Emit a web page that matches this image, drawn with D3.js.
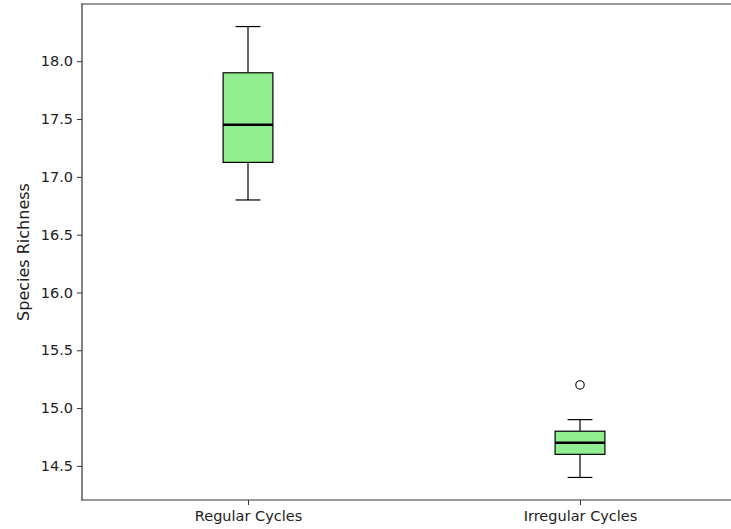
<!DOCTYPE html>
<html>
<head>
<meta charset="utf-8">
<script src="https://cdn.jsdelivr.net/npm/d3@7"></script>
<style>
  html, body { margin: 0; padding: 0; background: #fff; overflow: hidden; }
  svg { display: block; font-family: "DejaVu Sans", sans-serif; overflow: hidden; }
</style>
</head>
<body>
<svg id="chart" width="731" height="529"></svg>
<script>
// Box-plot summary for each cycle type
const categories = ["Regular Cycles", "Irregular Cycles"];
const whiskerLow  = [16.8, 14.4];
const q1          = [17.125, 14.6];
const median      = [17.45, 14.7];
const q3          = [17.9, 14.8];
const whiskerHigh = [18.3, 14.9];
const outliers    = [[], [15.2]];
const yTicks = [14.5, 15.0, 15.5, 16.0, 16.5, 17.0, 17.5, 18.0];

const svg = d3.select("#chart");
const plot = { left: 82, top: 4, width: 664, height: 496 };

// Category positions 1..n on a linear axis spanning 0.5..n+0.5
const x = d3.scaleLinear()
  .domain([0.5, categories.length + 0.5])
  .range([plot.left, plot.left + plot.width]);

const allVals = whiskerLow.concat(whiskerHigh, ...outliers);
const lo = d3.min(allVals), hi = d3.max(allVals), pad = (hi - lo) * 0.05;
const y = d3.scaleLinear()
  .domain([lo - pad, hi + pad])
  .range([plot.top + plot.height, plot.top]);

const boxW = 0.15;   // box width in category units
const capW = boxW / 2;

const g = svg.append("g");

categories.forEach((c, i) => {
  const pos = i + 1;
  const grp = g.append("g");
  // whiskers
  grp.append("line")
    .attr("x1", x(pos)).attr("x2", x(pos))
    .attr("y1", y(q3[i])).attr("y2", y(whiskerHigh[i]))
    .attr("stroke", "#000").attr("stroke-width", 1.2);
  grp.append("line")
    .attr("x1", x(pos)).attr("x2", x(pos))
    .attr("y1", y(q1[i])).attr("y2", y(whiskerLow[i]))
    .attr("stroke", "#000").attr("stroke-width", 1.2);
  // caps
  [whiskerHigh[i], whiskerLow[i]].forEach(v => {
    grp.append("line")
      .attr("x1", x(pos - capW / 2)).attr("x2", x(pos + capW / 2))
      .attr("y1", y(v)).attr("y2", y(v))
      .attr("stroke", "#000").attr("stroke-width", 1.2);
  });
  // box
  grp.append("rect")
    .attr("x", x(pos - boxW / 2))
    .attr("y", y(q3[i]))
    .attr("width", x(pos + boxW / 2) - x(pos - boxW / 2))
    .attr("height", y(q1[i]) - y(q3[i]))
    .attr("fill", "#90ee90")
    .attr("stroke", "#000").attr("stroke-width", 1.2);
  // median
  grp.append("line")
    .attr("x1", x(pos - boxW / 2)).attr("x2", x(pos + boxW / 2))
    .attr("y1", y(median[i])).attr("y2", y(median[i]))
    .attr("stroke", "#000").attr("stroke-width", 2.6);
  // fliers
  grp.selectAll("circle.flier")
    .data(outliers[i])
    .join("circle")
    .attr("class", "flier")
    .attr("cx", x(pos)).attr("cy", d => y(d))
    .attr("r", 4.2)
    .attr("fill", "none")
    .attr("stroke", "#000").attr("stroke-width", 1.1);
});

// Axes
const yAxis = d3.axisLeft(y).tickValues(yTicks).tickFormat(d3.format(".1f"))
  .tickSize(5).tickPadding(4).tickSizeOuter(0);
const yG = svg.append("g").attr("transform", `translate(${plot.left},0)`).call(yAxis);
yG.select(".domain").remove();
yG.selectAll(".tick line").attr("stroke", "#333").attr("stroke-width", 1);
yG.selectAll(".tick text").attr("font-size", 14.5).attr("fill", "#222")
  .attr("font-family", "DejaVu Sans, sans-serif");

const xAxis = d3.axisBottom(x).tickValues(categories.map((c, i) => i + 1))
  .tickFormat((d, i) => categories[i]).tickSize(5).tickPadding(6).tickSizeOuter(0);
const xG = svg.append("g").attr("transform", `translate(0,${plot.top + plot.height})`).call(xAxis);
xG.select(".domain").remove();
xG.selectAll(".tick line").attr("stroke", "#333").attr("stroke-width", 1);
xG.selectAll(".tick text").attr("font-size", 14.5).attr("fill", "#222")
  .attr("font-family", "DejaVu Sans, sans-serif");

// Spines: top, left, bottom (the right side lies past the visible edge)
const x0 = plot.left, x1 = plot.left + plot.width;
const y0 = plot.top, y1 = plot.top + plot.height;
[[x0, y0, x1, y0], [x0, y0, x0, y1], [x0, y1, x1, y1]].forEach(s => {
  svg.append("line")
    .attr("x1", s[0]).attr("y1", s[1]).attr("x2", s[2]).attr("y2", s[3])
    .attr("stroke", "#333").attr("stroke-width", 1.2)
    .attr("stroke-linecap", "square");
});

// Y label
svg.append("text")
  .attr("transform", `translate(29,${plot.top + plot.height / 2}) rotate(-90)`)
  .attr("text-anchor", "middle")
  .attr("font-size", 16)
  .attr("fill", "#222")
  .text("Species Richness");
</script>
</body>
</html>
